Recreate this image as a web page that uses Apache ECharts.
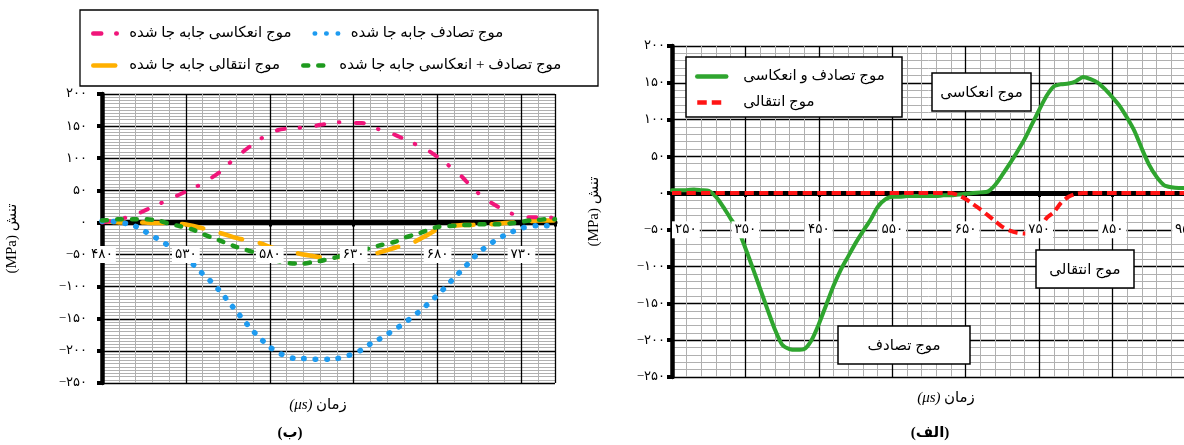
<!DOCTYPE html>
<html>
<head>
<meta charset="utf-8">
<script src="https://cdn.jsdelivr.net/npm/echarts@6/dist/echarts.min.js"></script>
<style>
  html, body { margin: 0; padding: 0; background: #fff; }
  #chart { width: 1184px; height: 445px; }
</style>
</head>
<body>
<div id="chart"></div>
<script>
// ---- Panel (ب): shifted waves, time in µs, stress in MPa ----
const timeB = [480,485,490,495,500,505,510,515,520,525,530,535,540,545,550,555,560,565,570,575,
  580,585,590,595,600,605,610,615,620,625,630,635,640,645,650,655,660,665,670,675,
  680,685,690,695,700,705,710,715,720,725,730,735,740,745,750];
const reflectedShifted = [0,2,5,8,12,18,24,30,36,42,48,54,61,69,78,90,102,112,122,131,
  138,144,146,147,148,149,152,154,156,156,155,155,150,145,141,136,130,124,118,111,
  102,92,82,70,56,44,34,26,18,13,10,8,8,8,7];
const incidentShifted = [2,2,0,-2,-6,-13,-21,-28,-37,-47,-57,-67,-80,-92,-106,-122,-138,-154,-169,-182,
  -194,-203,-208,-212,-212,-213,-213,-213,-212,-209,-204,-198,-189,-182,-174,-166,-157,-147,-137,-125,
  -113,-100,-86,-73,-59,-46,-36,-27,-20,-14,-9,-6,-5,-5,-6];
const sumShifted = [3,4,5,5,5,5,4,2,-2,-5,-8,-12,-18,-23,-28,-33,-38,-42,-46,-51,
  -56,-60,-63,-64,-64,-62,-60,-57,-54,-50,-46,-43,-40,-36,-33,-30,-24,-20,-16,-11,
  -7,-6,-5,-4,-4,-3,-3,-3,-2,-1,1,3,4,5,5];
const transmittedShifted = [1,1,0,0,0,0,-1,-1,-1,-2,-3,-6,-9,-12,-16,-20,-24,-27,-29,-33,
  -38,-42,-45,-47,-50,-52,-54,-54,-54,-54,-53,-52,-51,-47,-43,-39,-36,-32,-25,-18,
  -10,-6,-5,-4,-4,-3,-3,-2,-1,0,1,2,3,3,3];

// ---- Panel (الف): recorded waves ----
const timeA = [250,260,270,280,290,300,310,320,330,340,350,360,370,380,390,400,410,420,430,440,
  450,460,470,480,490,500,510,520,530,540,550,560,570,580,590,600,610,620,630,640,
  650,660,670,680,690,700,710,720,730,740,750,760,770,780,790,800,810,820,830,840,
  850,860,870,880,890,900,910,920,930,940,950];
const incidentReflected = [4,4,4,5,4,3,-5,-19,-35,-50,-75,-102,-130,-158,-185,-206,-212,-213,-212,-200,
  -178,-152,-126,-104,-86,-68,-52,-37,-19,-9,-5,-5,-4,-4,-4,-4,-4,-3,-3,-2,
  -1,0,1,2,11,25,40,56,73,93,113,132,145,148,149,152,158,155,150,141,
  130,118,102,84,60,38,22,11,8,7,7];
const transmitted = [0,0,0,0,0,0,0,0,0,0,0,0,0,0,0,0,0,0,0,0,
  0,0,0,0,0,0,0,0,0,0,0,0,0,0,0,0,0,0,0,-3,
  -8,-15,-22,-30,-38,-46,-51,-54,-55,-55,-50,-34,-26,-13,-5,-1,0,0,0,0,
  0,0,0,0,0,0,0,0,0,0,0];

// ---- Labels ----
const namesB = ['موج انعکاسی جابه جا شده', 'موج تصادف جابه جا شده',
                'موج انتقالی جابه جا شده', 'موج تصادف + انعکاسی جابه جا شده'];
const namesA = ['موج تصادف و انعکاسی', 'موج انتقالی'];
const notesA = ['موج انعکاسی', 'موج انتقالی', 'موج تصادف'];
const yName = '(MPa) تنش';
const captions = ['(ب)', '(الف)'];
const FA_DIGITS = ['۰','۱','۲','۳','۴','۵','۶','۷','۸','۹'];

const FF = "'Liberation Serif', 'DejaVu Sans', serif";
const toFa = v => (v < 0 ? '\u2212' : '') + String(Math.abs(Math.round(v))).replace(/\d/g, d => FA_DIGITS[+d]);
const pair = (xs, ys) => xs.map((x, i) => [x, ys[i]]);

const chart = echarts.init(document.getElementById('chart'), null, { renderer: 'canvas' });

function mainX(grid, min, max, interval, minorSplit) {
  return {
    type: 'value', gridIndex: grid, min, max, interval,
    axisLine: { show: true, onZero: true, lineStyle: { color: '#000', width: 5 } },
    axisTick: { show: true, length: 4, lineStyle: { color: '#000', width: 3 } },
    axisLabel: { show: false },
    splitLine: { show: true, lineStyle: { color: '#000', width: 1.3 } },
    minorTick: { show: false, splitNumber: minorSplit },
    minorSplitLine: { show: true, lineStyle: { color: '#b0b0b0', width: 1 } },
    z: 0
  };
}
// Tick labels ride on the −50 MPa grid row, boxed in white, above the curves
function labelX(grid, min, max, interval, offset, extra) {
  return {
    type: 'value', gridIndex: grid, min, max, interval, position: 'bottom', offset,
    axisLine: { show: false, onZero: false },
    axisTick: { show: false },
    splitLine: { show: false },
    minorSplitLine: { show: false },
    axisLabel: Object.assign({
      show: true, margin: 0, verticalAlign: 'middle', color: '#000', fontSize: 13.5, fontFamily: FF,
      backgroundColor: '#fff', padding: [2, 3, 1, 3], formatter: toFa
    }, extra),
    z: 10
  };
}
function yAx(grid, minorSplit, nameGap, labelMargin) {
  return {
    type: 'value', gridIndex: grid, min: -250, max: 200, interval: 50, position: 'left',
    axisLine: { show: true, onZero: false, lineStyle: { color: '#000', width: 4.5 } },
    axisTick: { show: true, length: 5, lineStyle: { color: '#000', width: 4 } },
    axisLabel: { margin: labelMargin, color: '#000', fontSize: 13, fontFamily: FF, formatter: toFa },
    splitLine: { show: true, lineStyle: { color: '#000', width: 1.3 } },
    minorTick: { show: false, splitNumber: minorSplit },
    minorSplitLine: { show: true, lineStyle: { color: '#b0b0b0', width: 1 } },
    name: yName, nameLocation: 'middle', nameRotate: 90, nameGap,
    nameTextStyle: { color: '#000', fontSize: 15, fontFamily: FF }
  };
}
function lineSeries(name, xi, yi, xs, ys, color, width, type, cap) {
  return {
    name, type: 'line', xAxisIndex: xi, yAxisIndex: yi, data: pair(xs, ys),
    symbol: 'none', showSymbol: false, smooth: 0.25, animation: false,
    itemStyle: { color },
    lineStyle: { color, width, type, cap: cap || 'butt', join: 'round' },
    z: 3
  };
}
const legendText = (w, size, pad) => ({ color: '#000', fontSize: size, fontFamily: FF, width: w, padding: [0, 0, 0, pad] });
const hiddenMarker = { color: 'rgba(0,0,0,0)', borderWidth: 0 };

function note(x, y, w, h, text) {
  return {
    type: 'group', z: 40,
    children: [
      { type: 'rect', z: 40, shape: { x, y, width: w, height: h }, style: { fill: '#fff', stroke: '#000', lineWidth: 1.5 } },
      { type: 'text', z: 41, x: x + w / 2, y: y + h / 2 + 1,
        style: { text, fill: '#000', font: '15px ' + FF, align: 'center', verticalAlign: 'middle' } }
    ]
  };
}

const option = {
  animation: false,
  backgroundColor: '#fff',
  grid: [
    { left: 102, top: 94, width: 453, height: 289, containLabel: false, outerBoundsMode: 'none' },
    { left: 672, top: 46, width: 514, height: 331, containLabel: false, outerBoundsMode: 'none' }
  ],
  xAxis: [
    mainX(0, 480, 750, 50, 5),
    labelX(0, 480, 750, 50, -128.5, { showMaxLabel: false }),
    mainX(1, 250, 950, 100, 5),
    labelX(1, 250, 950, 100, -147.2, { alignMinLabel: 'left' })
  ],
  yAxis: [ yAx(0, 10, 82, 15), yAx(1, 5, 70, 7) ],
  legend: [
    { data: [namesB[0], namesB[1]], left: 86, top: 21, orient: 'horizontal', itemWidth: 25, itemHeight: 10,
      itemGap: 21, selectedMode: false, z: 60, itemStyle: hiddenMarker, lineStyle: { width: 4.5 },
      textStyle: legendText(180, 15, 6) },
    { data: [namesB[2], namesB[3]], left: 86, top: 53, orient: 'horizontal', itemWidth: 25, itemHeight: 10,
      itemGap: 21, selectedMode: false, z: 60, itemStyle: hiddenMarker, lineStyle: { width: 4.5 },
      textStyle: legendText(180, 15, 6) },
    { data: namesA, left: 690, top: 64, orient: 'vertical', itemWidth: 29, itemHeight: 10,
      itemGap: 11, selectedMode: false, z: 60, itemStyle: hiddenMarker, lineStyle: { width: 4.5 },
      textStyle: { color: '#000', fontSize: 15, fontFamily: FF, padding: [0, 0, 0, 12] } }
  ],
  graphic: [
    { type: 'rect', z: 50, shape: { x: 80, y: 10, width: 518, height: 76 }, style: { fill: '#fff', stroke: '#000', lineWidth: 1.3 } },
    { type: 'rect', z: 50, shape: { x: 686, y: 57, width: 216, height: 60 }, style: { fill: '#fff', stroke: '#000', lineWidth: 1.5 } },
    note(932, 73, 99, 38, notesA[0]),
    note(1036, 250, 98, 38, notesA[1]),
    note(838, 326, 132, 38, notesA[2]),
    { type: 'text', z: 30, x: 318, y: 405,
      style: { text: '{i|(μs)} {a|زمان}', align: 'center', verticalAlign: 'middle', fill: '#000',
               rich: { i: { font: 'italic 15px ' + FF }, a: { font: '15px ' + FF } } } },
    { type: 'text', z: 30, x: 946, y: 398,
      style: { text: '{i|(μs)} {a|زمان}', align: 'center', verticalAlign: 'middle', fill: '#000',
               rich: { i: { font: 'italic 15px ' + FF }, a: { font: '15px ' + FF } } } },
    { type: 'text', z: 30, x: 290, y: 433,
      style: { text: captions[0], font: 'bold 15px ' + FF, align: 'center', verticalAlign: 'middle', fill: '#000' } },
    { type: 'text', z: 30, x: 930, y: 433,
      style: { text: captions[1], font: 'bold 15px ' + FF, align: 'center', verticalAlign: 'middle', fill: '#000' } }
  ],
  series: [
    lineSeries(namesB[2], 0, 0, timeB, transmittedShifted, '#FFB000', 4.5, [22, 18], 'round'),
    lineSeries(namesB[0], 0, 0, timeB, reflectedShifted, '#F0157A', 4, [8, 15, 0.5, 16.5], 'round'),
    lineSeries(namesB[1], 0, 0, timeB, incidentShifted, '#1E9BF0', 5.5, [0.5, 11], 'round'),
    lineSeries(namesB[3], 0, 0, timeB, sumShifted, '#1E9A1E', 4.5, [5, 10], 'round'),
    lineSeries(namesA[0], 2, 1, timeA, incidentReflected, '#2FA52F', 4, 'solid', 'round'),
    lineSeries(namesA[1], 2, 1, timeA, transmitted, '#FF1414', 4, [9.5, 5], 'butt')
  ]
};
chart.setOption(option);
</script>
</body>
</html>
